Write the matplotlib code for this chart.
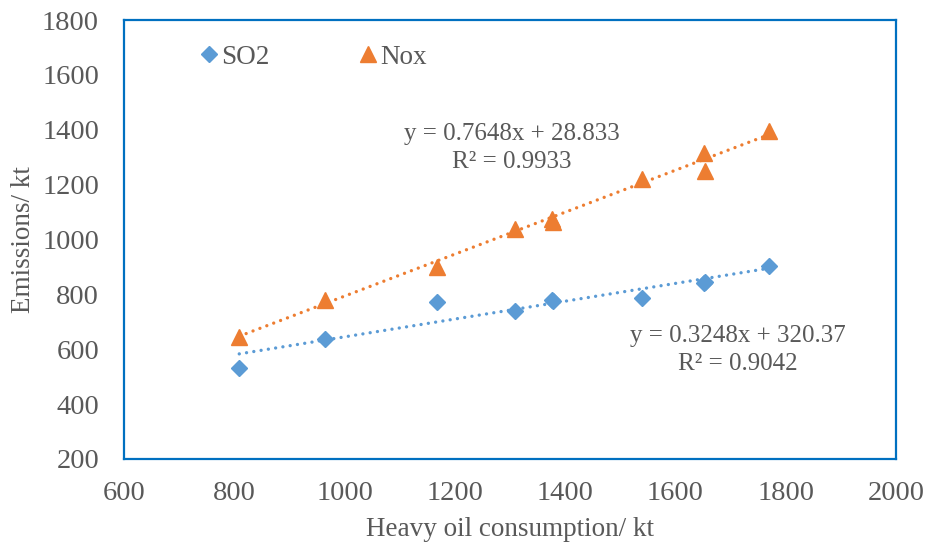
import matplotlib
matplotlib.use("Agg")
import matplotlib.pyplot as plt
import numpy as np

plt.rcParams['font.family'] = ['Liberation Serif', 'DejaVu Serif']

# heavy oil consumption (kt) and emissions (kt)
oil = [809, 965, 1168, 1309, 1376, 1378, 1539, 1652, 1654, 1770]
so2 = [532, 637, 772, 739, 779, 775, 787, 841, 845, 903]
nox = [645, 779, 900, 1038, 1075, 1064, 1220, 1315, 1250, 1395]

# trend line coefficients as printed on the chart
so2_fit = (0.3248, 320.37, 0.9042)
nox_fit = (0.7648, 28.833, 0.9933)

xticks = [600, 800, 1000, 1200, 1400, 1600, 1800, 2000]
yticks = [200, 400, 600, 800, 1000, 1200, 1400, 1600, 1800]

blue = '#5B9BD5'
orange = '#ED7D31'
grey = '#595959'
frame = '#0070C0'

fig = plt.figure(figsize=(9.27, 5.47), dpi=100)
ax = fig.add_axes([124 / 927, 1 - 459 / 547, 772 / 927, 439 / 547])

xs = np.array([min(oil), max(oil)])
for (a, b, r2), col in ((so2_fit, blue), (nox_fit, orange)):
    ax.plot(xs, a * xs + b, color=col, lw=2.4, linestyle=(0, (0.01, 2.2)),
            dash_capstyle='round', zorder=2)

ax.plot(oil, so2, linestyle='none', marker='D', ms=8, color=blue, label='SO2', zorder=3)
ax.plot(oil, nox, linestyle='none', marker='^', ms=11, color=orange, label='Nox', zorder=3)

ax.set_xlim(600, 2000)
ax.set_ylim(200, 1800)
ax.set_xticks(xticks)
ax.set_yticks(yticks)
ax.tick_params(length=0, labelsize=20.5, colors=grey)
ax.tick_params(axis='y', pad=18)
ax.tick_params(axis='x', pad=16)
for s in ax.spines.values():
    s.set_color(frame)
    s.set_linewidth(1.6)

ax.set_xlabel('Heavy oil consumption/ kt', fontsize=19.5, color=grey, labelpad=8)
ax.set_ylabel('Emissions/ kt', fontsize=19.5, color=grey, labelpad=4)

ax.text(1304, 1333, 'y = %.4fx + %.3f\nR² = %.4f' % nox_fit, ha='center', va='center',
        fontsize=18, color=grey, linespacing=1.35)
ax.text(1713, 597, 'y = %.4fx + %.2f\nR² = %.4f' % so2_fit, ha='center', va='center',
        fontsize=18, color=grey, linespacing=1.35)

ax.legend(loc='center left', bbox_to_anchor=(0.085, 0.915), ncol=2, frameon=False,
          fontsize=19.5, labelcolor=grey, handlelength=0.6, handletextpad=0.15,
          columnspacing=3.35, borderaxespad=0)

fig.savefig('out.png', dpi=100)
